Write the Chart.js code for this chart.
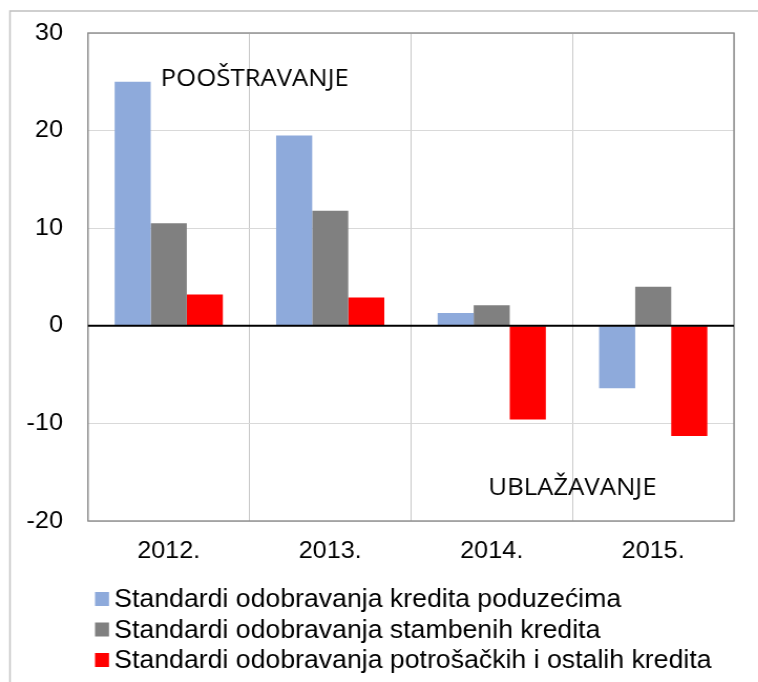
<!DOCTYPE html>
<html>
<head>
<meta charset="utf-8">
<script src="https://cdn.jsdelivr.net/npm/chart.js"></script>
<style>
  html, body { margin: 0; padding: 0; background: #fff; overflow: hidden; }
  /* the reference is slightly stretched sideways, so draw narrower and widen */
  #wrap { position: relative; width: 722px; height: 682px; transform: scaleX(1.05); transform-origin: 0 0; }
</style>
</head>
<body>
<div id="wrap"><canvas id="chart"></canvas></div>
<script>
// data
const years = ['2012.', '2013.', '2014.', '2015.'];
const seriesNames = [
  'Standardi odobravanja kredita poduzećima',
  'Standardi odobravanja stambenih kredita',
  'Standardi odobravanja potrošačkih i ostalih kredita'
];
const poduzeca = [25, 19.5, 1.3, -6.4];
const stambeni = [10.5, 11.8, 2.1, 4.0];
const potrosacki = [3.2, 2.9, -9.6, -11.3];
const yTicks = [-20, -10, 0, 10, 20, 30];
const notes = ['POOŠTRAVANJE', 'UBLAŽAVANJE'];

const colors = ['#8eaadb', '#808080', '#ff0000'];
const tickFont = { family: '"Liberation Sans", Arial, sans-serif', size: 24 };

// outer frame, plot frame and the black zero line
const framePlugin = {
  id: 'frame',
  beforeDraw(chart) {
    const c = chart.ctx;
    c.save();
    c.strokeStyle = '#c0c0c0';
    c.lineWidth = 1.5;
    c.beginPath();
    c.moveTo(9.5, chart.height);
    c.lineTo(9.5, 11);
    c.lineTo(chart.width, 11);
    c.stroke();
    c.restore();
  },
  beforeDatasetsDraw(chart) {
    const a = chart.chartArea, c = chart.ctx;
    c.save();
    c.strokeStyle = '#8c8c8c';
    c.lineWidth = 1.4;
    c.strokeRect(a.left, a.top, a.right - a.left, a.bottom - a.top);
    c.restore();
  },
  afterDatasetsDraw(chart) {
    const a = chart.chartArea, c = chart.ctx;
    const y0 = chart.scales.y.getPixelForValue(0);
    c.save();
    c.strokeStyle = '#000';
    c.lineWidth = 2;
    c.beginPath();
    c.moveTo(a.left, y0);
    c.lineTo(a.right, y0);
    c.stroke();
    c.restore();
  }
};

// the two captions inside the plot
const notesPlugin = {
  id: 'notes',
  afterDraw(chart) {
    const x = chart.scales.x, y = chart.scales.y, c = chart.ctx;
    c.save();
    c.fillStyle = '#000';
    c.font = '24.5px "Open Sans", sans-serif';
    c.textBaseline = 'middle';
    c.textAlign = 'left';
    c.fillText(notes[0], x.getPixelForValue(0) - 7.6, y.getPixelForValue(25.3));
    c.textAlign = 'center';
    c.fillText(notes[1], (x.getPixelForValue(2) + x.getPixelForValue(3)) / 2, y.getPixelForValue(-16.6));
    c.restore();
  }
};

// legend drawn under the axis, one row per series
const legendPlugin = {
  id: 'rowLegend',
  afterDraw(chart) {
    const c = chart.ctx, left = chart.chartArea.left;
    c.save();
    c.font = '25.4px "Liberation Sans", Arial, sans-serif';
    c.textBaseline = 'middle';
    c.textAlign = 'left';
    chart.data.datasets.forEach(function (ds, i) {
      const yc = 599 + i * 30.5;
      c.fillStyle = ds.backgroundColor;
      c.fillRect(left + 6.7, yc - 7, 13.3, 14);
      c.fillStyle = '#000';
      c.fillText(ds.label, left + 25, yc + 1);
    });
    c.restore();
  }
};

new Chart(document.getElementById('chart').getContext('2d'), {
  type: 'bar',
  data: {
    labels: years,
    datasets: [
      { label: seriesNames[0], data: poduzeca, backgroundColor: colors[0] },
      { label: seriesNames[1], data: stambeni, backgroundColor: colors[1] },
      { label: seriesNames[2], data: potrosacki, backgroundColor: colors[2] }
    ]
  },
  options: {
    responsive: true,
    maintainAspectRatio: false,
    animation: false,
    layout: { padding: { left: 0, right: 23, top: 33, bottom: 0 } },
    datasets: { bar: { categoryPercentage: 0.67, barPercentage: 1, borderWidth: 0 } },
    plugins: {
      legend: { display: false },
      tooltip: { enabled: false }
    },
    scales: {
      x: {
        grid: { offset: true, color: '#c8c8c8', lineWidth: 1, drawTicks: false },
        border: { display: false },
        ticks: { color: '#000', font: tickFont, padding: 15.5, maxRotation: 0 },
        afterFit(scale) { scale.height = 161; }
      },
      y: {
        min: -20,
        max: 30,
        afterBuildTicks(scale) { scale.ticks = yTicks.map(v => ({ value: v })); },
        grid: { color: '#d9d9d9', lineWidth: 1, drawTicks: false },
        border: { display: false },
        ticks: { color: '#000', font: tickFont, padding: 23.8 },
        afterFit(scale) {
          scale.width = 83.8;
          // tick padding should not push the plot top down
          scale.paddingTop = 0;
          scale.paddingBottom = 0;
        }
      }
    }
  },
  plugins: [framePlugin, notesPlugin, legendPlugin]
});
</script>
</body>
</html>
